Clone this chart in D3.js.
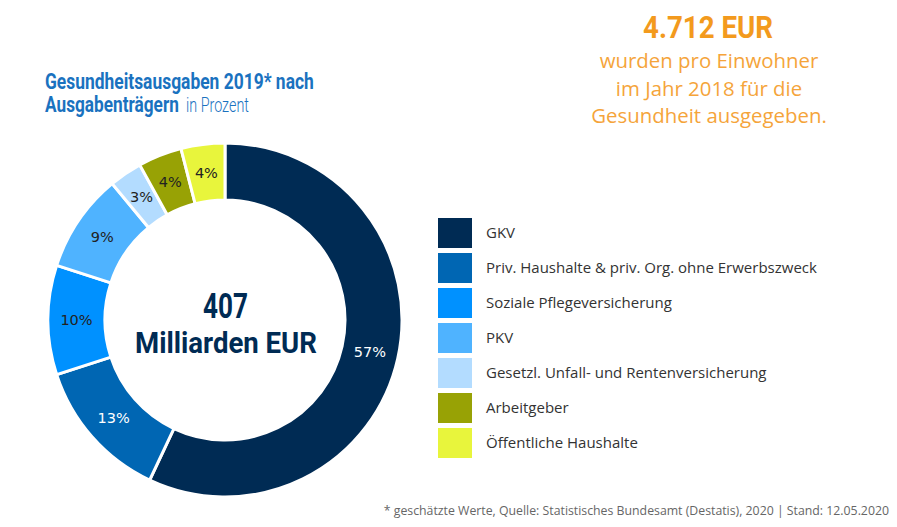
<!DOCTYPE html>
<html><head><meta charset="utf-8">
<script src="https://cdn.jsdelivr.net/npm/d3@7"></script>
<style>
body{margin:0;background:#fff;}
svg{display:block;}
</style></head>
<body><svg id="c" width="897" height="527"></svg>
<script>
const categories = ["GKV","Priv. Haushalte & priv. Org. ohne Erwerbszweck","Soziale Pflegeversicherung","PKV","Gesetzl. Unfall- und Rentenversicherung","Arbeitgeber","Öffentliche Haushalte"];
const values = [57,13,10,9,3,4,4];
const colors = ["#002b54","#0066b3","#0091ff","#4fb3ff","#b3dcff","#98a205","#e8f53c"];
const labelColors = ["#fff","#fff","#222","#222","#222","#222","#222"];

const svg = d3.select("#c");
const cond = "Roboto,sans-serif";
const sans = "'Open Sans','Noto Sans',sans-serif";

// condensed text: natural Roboto scaled horizontally to a target width
function ctext(x,y,size,weight,fill,txt,len){
  const gg = svg.append("g");
  const t = gg.append("text").attr("x",0).attr("y",0).attr("font-family",cond)
    .attr("font-weight",weight).attr("font-size",size).attr("fill",fill).text(txt);
  const w = t.node().getComputedTextLength();
  gg.attr("transform",`translate(${x},${y}) scale(${len/w},1)`);
  return gg;
}

// Title
ctext(45,89,22,"bold","#1a72bf","Gesundheitsausgaben 2019* nach",269);
ctext(45,112,22,"bold","#1a72bf","Ausgabenträgern",134);
ctext(186,112,21,"300","#1a72bf","in Prozent",63);

// Right info block
ctext(643,38,32,"bold","#f39a1d","4.712 EUR",130);
["wurden pro Einwohner","im Jahr 2018 für die","Gesundheit ausgegeben."].forEach((s,i)=>{
  svg.append("text").attr("x",709).attr("y",68+i*27.5).attr("text-anchor","middle")
    .attr("font-family",sans).attr("font-weight",400).attr("font-size",20.4).attr("fill","#f5a43a").text(s);
});

// Donut
const cx=225, cy=320, rO=177, rI=120;
const g = svg.append("g").attr("transform",`translate(${cx},${cy})`);
const pie = d3.pie().sort(null).value(d=>d);
const arcs = pie(values);
const arc = d3.arc().innerRadius(rI).outerRadius(rO);
g.selectAll("path").data(arcs).join("path")
  .attr("d",arc).attr("fill",(d,i)=>colors[i]).attr("stroke","#fff").attr("stroke-width",3);
const lab = d3.arc().innerRadius((rI+rO)/2).outerRadius((rI+rO)/2);
g.selectAll("text.l").data(arcs).join("text").attr("class","l")
  .attr("transform",d=>`translate(${lab.centroid(d)})`)
  .attr("text-anchor","middle").attr("dy","0.35em")
  .attr("font-family","'DejaVu Sans',Verdana,sans-serif").attr("font-size",14.5)
  .attr("fill",(d,i)=>labelColors[i]).text(d=>d.data+"%");

ctext(203,318,36,"bold","#002b54","407",45);
ctext(135,353,30,"bold","#002b54","Milliarden EUR",182);

// Legend
const ly = d3.scaleBand().domain(categories).range([218,218+35*7]).paddingInner(0);
const leg = svg.append("g");
categories.forEach((c,i)=>{
  leg.append("rect").attr("x",438).attr("y",ly(c)).attr("width",34).attr("height",30).attr("fill",colors[i]);
  leg.append("text").attr("x",486).attr("y",ly(c)+20).attr("font-family",sans).attr("font-size",15).attr("fill","#333").text(c);
});

// Footnote
svg.append("text").attr("x",889).attr("y",515).attr("text-anchor","end")
  .attr("font-family",sans).attr("font-size",12.3).attr("fill","#666")
  .text("* geschätzte Werte, Quelle: Statistisches Bundesamt (Destatis), 2020 | Stand: 12.05.2020");
</script></body></html>
